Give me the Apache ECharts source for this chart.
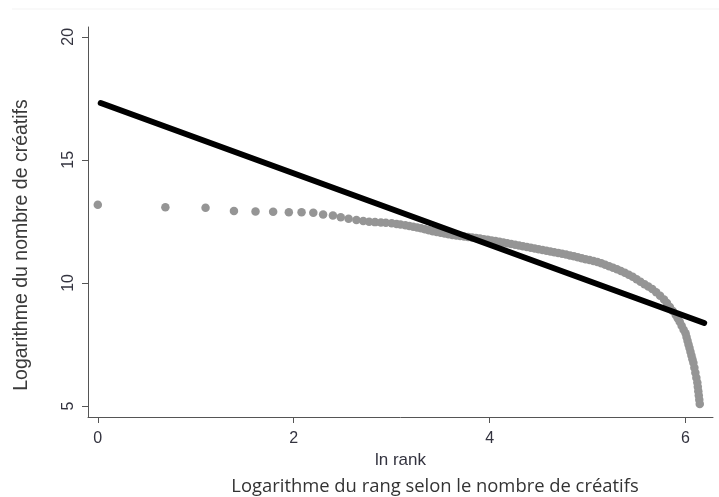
<!DOCTYPE html>
<html><head><meta charset="utf-8">
<script src="https://cdn.jsdelivr.net/npm/echarts@6/dist/echarts.min.js"></script>
<style>html,body{margin:0;padding:0;background:#fff}#c{width:719px;height:497px}</style>
</head><body><div id="c"></div>
<script>
const lnRank = [0, 0.69, 1.10, 1.39, 1.61, 1.79, 1.95, 2.08, 2.20, 2.30,
  2.40, 2.48, 2.56, 2.64, 2.71, 2.77, 2.83, 2.89, 2.94, 3.00,
  3.05, 3.09, 3.14, 3.18, 3.22, 3.26, 3.30, 3.34, 3.38, 3.42,
  3.46, 3.50, 3.54, 3.58, 3.62, 3.66, 3.70, 3.74, 3.78, 3.82,
  3.86, 3.90, 3.94, 3.98, 4.02, 4.06, 4.10, 4.14, 4.18, 4.22,
  4.26, 4.30, 4.34, 4.38, 4.42, 4.46, 4.50, 4.54, 4.58, 4.62,
  4.66, 4.70, 4.74, 4.78, 4.82, 4.86, 4.90, 4.94, 4.98, 5.02,
  5.06, 5.10, 5.14, 5.18, 5.22, 5.26, 5.30, 5.34, 5.38, 5.42,
  5.46, 5.50, 5.54, 5.58, 5.62, 5.66, 5.70, 5.74, 5.78, 5.81,
  5.84, 5.87, 5.90, 5.92, 5.94, 5.96, 5.98, 6.00, 6.01, 6.02,
  6.03, 6.04, 6.05, 6.06, 6.07, 6.08, 6.09, 6.10, 6.11, 6.12,
  6.125, 6.13, 6.135, 6.14, 6.145];
const logCreatifs = [13.18, 13.07, 13.05, 12.92, 12.90, 12.89, 12.87, 12.87, 12.85, 12.78,
  12.74, 12.67, 12.61, 12.56, 12.52, 12.49, 12.47, 12.45, 12.44, 12.42,
  12.39, 12.37, 12.34, 12.31, 12.28, 12.25, 12.22, 12.18, 12.14, 12.10,
  12.07, 12.04, 12.01, 11.98, 11.95, 11.93, 11.91, 11.89, 11.87, 11.85,
  11.82, 11.80, 11.77, 11.75, 11.72, 11.70, 11.67, 11.64, 11.61, 11.58,
  11.55, 11.52, 11.49, 11.46, 11.43, 11.40, 11.37, 11.34, 11.31, 11.28,
  11.25, 11.22, 11.18, 11.15, 11.11, 11.08, 11.04, 11.00, 10.96, 10.93,
  10.89, 10.85, 10.80, 10.74, 10.68, 10.62, 10.55, 10.48, 10.41, 10.33,
  10.25, 10.15, 10.05, 9.95, 9.85, 9.75, 9.62, 9.48, 9.33, 9.18,
  9.02, 8.86, 8.70, 8.56, 8.42, 8.26, 8.10, 7.95, 7.80, 7.65,
  7.50, 7.35, 7.20, 7.05, 6.90, 6.75, 6.55, 6.35, 6.15, 5.95,
  5.78, 5.60, 5.42, 5.25, 5.08];
// fitted regression line end points
const fitX = [0.03, 6.19];
const fitY = [17.31, 8.37];
// tick labels
const xTicks = [0, 2, 4, 6];
const yTicks = [5, 10, 15, 20];
const xTitle = 'ln rank';
const yTitle = 'Logarithme du nombre de créatifs';
const caption = 'Logarithme du rang selon le nombre de créatifs';

const scatterData = lnRank.map((x, i) => [x, logCreatifs[i]]);
const lineData = fitX.map((x, i) => [x, fitY[i]]);
const axisCol = '#555555';
const labelCol = '#33333f';
const font = '"Liberation Sans", Arial, sans-serif';

const chart = echarts.init(document.getElementById('c'), null, {renderer: 'canvas'});
chart.setOption({
  animation: false,
  backgroundColor: '#ffffff',
  grid: {left: 88, right: 6, top: 27, bottom: 80, containLabel: false},
  xAxis: {
    type: 'value', min: -0.1, max: 6.28,
    axisLine: {show: true, onZero: false, lineStyle: {color: axisCol, width: 1}},
    axisTick: {show: true, customValues: xTicks, length: 6, lineStyle: {color: axisCol}},
    axisLabel: {customValues: xTicks, margin: 14, fontSize: 16, fontFamily: font, color: labelCol},
    splitLine: {show: false},
    name: xTitle, nameLocation: 'middle', nameGap: 27,
    nameTextStyle: {fontSize: 17, fontFamily: font, color: labelCol}
  },
  yAxis: {
    type: 'value', min: 4.55, max: 20.4,
    axisLine: {show: true, onZero: false, lineStyle: {color: axisCol, width: 1}},
    axisTick: {show: true, customValues: yTicks, length: 6, lineStyle: {color: axisCol}},
    axisLabel: {customValues: yTicks, rotate: 90, margin: 11, fontSize: 16, fontFamily: font, color: labelCol},
    splitLine: {show: false}
  },
  graphic: [
    {type: 'line', shape: {x1: 12, y1: 9, x2: 719, y2: 9}, style: {stroke: '#f3f3f3', lineWidth: 1}, silent: true},
    {type: 'text', x: 22, y: 245, rotation: Math.PI / 2, style: {text: yTitle, fontSize: 19.5, fontFamily: font, fill: '#3a3a3a', textAlign: 'center', textVerticalAlign: 'middle'}},
    {type: 'text', x: 435, y: 487, style: {text: caption, fontSize: 18.4, fontFamily: '"Open Sans", sans-serif', fill: '#333333', textAlign: 'center', textVerticalAlign: 'middle'}}
  ],
  series: [
    {type: 'scatter', data: scatterData, symbol: 'circle', symbolSize: 8.5,
     itemStyle: {color: '#959595', opacity: 1}},
    {type: 'line', data: lineData, symbol: 'none', lineStyle: {color: '#000000', width: 6, cap: 'round'}}
  ]
});
</script>
</body></html>
